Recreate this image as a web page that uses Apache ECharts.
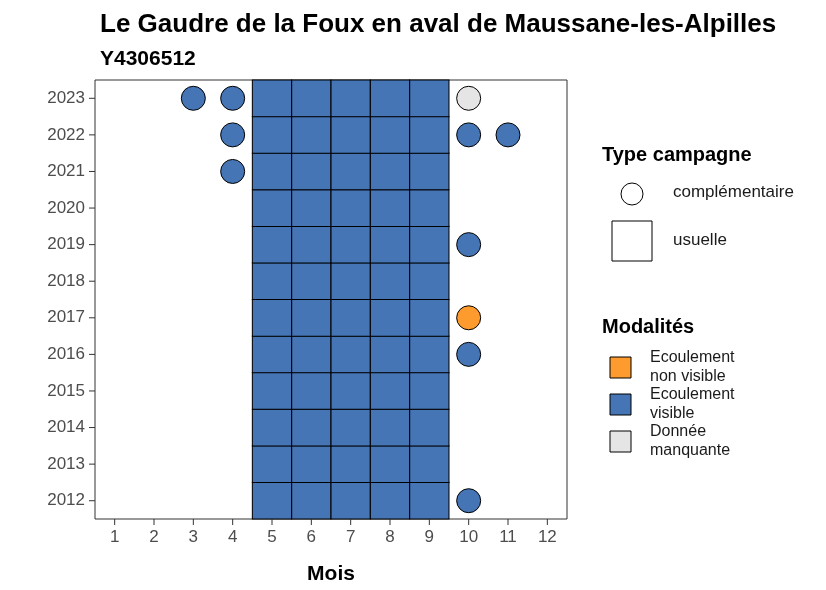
<!DOCTYPE html>
<html>
<head>
<meta charset="utf-8">
<script src="https://cdn.jsdelivr.net/npm/echarts@6/dist/echarts.min.js"></script>
<style>body{margin:0;background:#fff}#chart{width:826px;height:590px}</style>
</head>
<body>
<div id="chart"></div>
<script>
// Data
var months = [1, 2, 3, 4, 5, 6, 7, 8, 9, 10, 11, 12];
var years = [2012, 2013, 2014, 2015, 2016, 2017, 2018, 2019, 2020, 2021, 2022, 2023];
var usualMonths = [5, 6, 7, 8, 9];
// [month, year, modalite]
var extraPoints = [
  [3, 2023, 'visible'], [4, 2023, 'visible'], [10, 2023, 'manquante'],
  [4, 2022, 'visible'], [10, 2022, 'visible'], [11, 2022, 'visible'],
  [4, 2021, 'visible'],
  [10, 2019, 'visible'],
  [10, 2017, 'nonvisible'],
  [10, 2016, 'visible'],
  [10, 2012, 'visible']
];
var colors = { visible: '#4575b4', nonvisible: '#fd9b2f', manquante: '#e5e5e5' };

var usualData = [];
years.forEach(function(y) {
  usualMonths.forEach(function(m) { usualData.push([m, y]); });
});

var chart = echarts.init(document.getElementById('chart'));
var font = 'Liberation Sans, Arial, sans-serif';

var option = {
  animation: false,
  title: [
    { text: 'Le Gaudre de la Foux en aval de Maussane-les-Alpilles', left: 95, top: 7,
      textStyle: { fontFamily: font, fontSize: 26, fontWeight: 'bold', color: '#000' } },
    { text: 'Y4306512', left: 95, top: 44,
      textStyle: { fontFamily: font, fontSize: 21, fontWeight: 'bold', color: '#000' } }
  ],
  grid: { left: 95, top: 80, width: 472, height: 441, show: true, borderColor: '#333', borderWidth: 1 },
  xAxis: {
    type: 'value', min: 0.5, max: 12.5, interval: 1,
    name: 'Mois', nameLocation: 'middle', nameGap: 45,
    nameTextStyle: { fontFamily: font, fontSize: 21, fontWeight: 'bold', color: '#000' },
    axisLine: { show: false }, splitLine: { show: false },
    axisTick: { show: false },
    axisLabel: { show: false }
  },
  yAxis: {
    type: 'value', min: 2011.5, max: 2023.5,
    axisLine: { show: false }, splitLine: { show: false },
    axisTick: { show: false }, axisLabel: { show: false }
  },
  series: [
    {
      type: 'scatter', symbol: 'rect', symbolSize: [39.3, 36.75],
      data: usualData,
      itemStyle: { color: colors.visible, borderColor: '#000', borderWidth: 1, opacity: 1 }
    },
    {
      type: 'scatter', symbol: 'circle', symbolSize: 24,
      data: extraPoints.map(function(p) {
        return { value: [p[0], p[1]], itemStyle: { color: colors[p[2]] } };
      }),
      itemStyle: { borderColor: '#000', borderWidth: 1, opacity: 1 }
    },
    // tick labels with small tick marks
    {
      type: 'scatter', symbol: 'rect', symbolSize: [1, 6], symbolOffset: [0, 3], silent: true,
      itemStyle: { color: '#333', opacity: 1 },
      data: months.map(function(m) { return [m, 2011.5]; }),
      label: { show: true, position: 'bottom', distance: 4, formatter: function(p) { return p.value[0]; },
        fontFamily: font, fontSize: 17, color: '#4d4d4d' }
    },
    {
      type: 'scatter', symbol: 'rect', symbolSize: [6, 1], symbolOffset: [-3, 0], silent: true,
      itemStyle: { color: '#333', opacity: 1 },
      data: years.map(function(y) { return [0.5, y]; }),
      label: { show: true, position: 'left', distance: 4, formatter: function(p) { return p.value[1]; },
        fontFamily: font, fontSize: 17, color: '#4d4d4d' }
    }
  ],
  graphic: [
    { type: 'text', left: 602, top: 145, style: { text: 'Type campagne', font: 'bold 20px ' + font, fill: '#000' } },
    { type: 'circle', shape: { cx: 632, cy: 194, r: 11 }, style: { fill: '#fff', stroke: '#000', lineWidth: 1 } },
    { type: 'text', left: 673, top: 184, style: { text: 'complémentaire', font: '17px ' + font, fill: '#1a1a1a' } },
    { type: 'rect', shape: { x: 612, y: 221, width: 40, height: 40 }, style: { fill: '#fff', stroke: '#000', lineWidth: 1 } },
    { type: 'text', left: 673, top: 232, style: { text: 'usuelle', font: '17px ' + font, fill: '#1a1a1a' } },
    { type: 'text', left: 602, top: 317, style: { text: 'Modalités', font: 'bold 20px ' + font, fill: '#000' } },
    { type: 'rect', shape: { x: 610, y: 357, width: 21, height: 21 }, style: { fill: colors.nonvisible, stroke: '#000' } },
    { type: 'text', left: 650, top: 348, style: { text: 'Ecoulement\nnon visible', font: '16px ' + font, fill: '#1a1a1a', lineHeight: 19 } },
    { type: 'rect', shape: { x: 610, y: 394, width: 21, height: 21 }, style: { fill: colors.visible, stroke: '#000' } },
    { type: 'text', left: 650, top: 385, style: { text: 'Ecoulement\nvisible', font: '16px ' + font, fill: '#1a1a1a', lineHeight: 19 } },
    { type: 'rect', shape: { x: 610, y: 431, width: 21, height: 21 }, style: { fill: colors.manquante, stroke: '#000' } },
    { type: 'text', left: 650, top: 422, style: { text: 'Donnée\nmanquante', font: '16px ' + font, fill: '#1a1a1a', lineHeight: 19 } }
  ]
};
chart.setOption(option);
</script>
</body>
</html>
